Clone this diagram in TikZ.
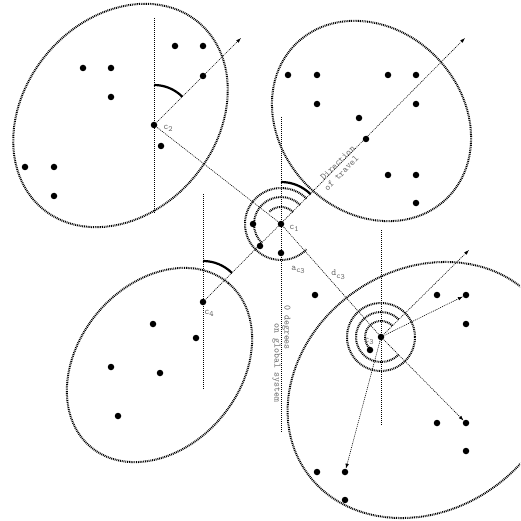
\documentclass[tikz,border=0pt]{standalone}
\usetikzlibrary{arrows.meta}
\newcommand\lsub[1]{\raisebox{-0.5ex}{\fontsize{8}{8}\selectfont #1}}
\begin{document}
\begin{tikzpicture}[x=1pt,y=-1pt,
  ell/.style={line width=2pt, dash pattern=on 0.9pt off 0.9pt},
  thindot/.style={line width=0.6pt, dash pattern=on 1pt off 1pt},
  dotpt/.style={circle, fill=black, inner sep=0pt, minimum size=6.5pt},
  lab/.style={text=black!60, font=\fontsize{9.5}{10}\selectfont\ttfamily, inner sep=0pt},
  angarc/.style={line width=2.2pt},
  tip/.style={-{Latex[length=5pt,width=3.5pt]}}]
\path[use as bounding box] (0,0) rectangle (520,521);
\clip (0,0) rectangle (520,521);

% ellipses (clusters)
\draw[ell, rotate around={50:(120.5,115.5)}] (120.5,115.5) ellipse [x radius=121.5pt, y radius=96pt];
\draw[ell, rotate around={-46:(371.5,121)}] (371.5,121) ellipse [x radius=108pt, y radius=91pt];
\draw[ell, rotate around={50:(159.5,365)}] (159.5,365) ellipse [x radius=107pt, y radius=81pt];
\draw[ell, rotate around={35:(423.5,390)}] (423.5,390) ellipse [x radius=143pt, y radius=120pt];

% points
\node[dotpt] (c1) at (281,224) {};
\node[dotpt] (c2) at (154,125) {};
\node[dotpt] (c3) at (381,337) {};
\node[dotpt] (c4) at (203,302) {};
\foreach \x/\y [count=\i] in {175/46,203/46,203/76,83/68,111/68,111/97,161/146,25/167,54/167,54/196,
  288/75,317/75,388/75,416/75,317/104,416/104,359/118,366/139,388/175,416/175,416/203,
  253/224,260/246,281/253,315/295,
  153/324,196/338,111/367,160/373,118/416,
  437/295,466/295,466/324,370/350,437/423,466/423,466/451,317/472,345/472,345/500}
  \node[dotpt] (p\i) at (\x,\y) {};

% vertical reference lines
\coordinate (v1a) at (154,18);  \coordinate (v1b) at (154,214);
\coordinate (v2a) at (281,117); \coordinate (v2b) at (281,432);
\coordinate (v3a) at (381,230); \coordinate (v3b) at (381,425);
\coordinate (v4a) at (203,194); \coordinate (v4b) at (203,390);
\draw[thindot] (v1a) -- (v1b);
\draw[thindot] (v2a) -- (v2b);
\draw[thindot] (v3a) -- (v3b);
\draw[thindot] (v4a) -- (v4b);

% direction arrows
\coordinate (t2) at (241,38);
\coordinate (t1) at (465,38);
\coordinate (t3) at (469,250);
\draw[thindot, tip] (c2.center) -- (t2);
\draw[thindot, tip] (c4.center) -- (t1);
\draw[thindot, tip] (c3.center) -- (t3);

% connectors
\draw[thindot] (c2.center) -- (c1.center);
\draw[thindot] (c1.center) -- (c3.center);
\draw[thindot, tip] (c3.center) -- (p36);
\draw[thindot, tip] (c3.center) -- (p32);
\draw[thindot, tip] (c3.center) -- (p39);

% angle arcs
\draw[angarc] ([shift={(90:40pt)}]c2.center) arc[start angle=90, end angle=45, radius=40pt];
\draw[angarc] ([shift={(90:42pt)}]c1.center) arc[start angle=90, end angle=45, radius=42pt];
\draw[angarc] ([shift={(90:41pt)}]c4.center) arc[start angle=90, end angle=45, radius=41pt];

% rings at c1
\draw[ell] ([shift={(45:17pt)}]c1.center) arc[start angle=45, delta angle=90, radius=17pt];
\draw[ell] ([shift={(45:27pt)}]c1.center) arc[start angle=45, delta angle=180, radius=27pt];
\draw[ell] ([shift={(45:36pt)}]c1.center) arc[start angle=45, delta angle=270, radius=36pt];
% rings at c3
\draw[ell] ([shift={(45:16pt)}]c3.center) arc[start angle=45, delta angle=180, radius=16pt];
\draw[ell] ([shift={(45:25pt)}]c3.center) arc[start angle=45, delta angle=270, radius=25pt];
\draw[ell] (c3.center) circle[radius=34pt];

% labels
\node[lab] (lc1) at (294,228) {c\lsub{1}};
\node[lab] (lc2) at (168,128) {c\lsub{2}};
\node[lab] (lc3) at (369,341) {c\lsub{3}};
\node[lab] (lc4) at (209,313) {c\lsub{4}};
\node[lab] (lac) at (298,270) {a\lsub{c\lsub{3}}};
\node[lab] (ldc) at (338,275) {d\lsub{c\lsub{3}}};
\node[lab, rotate=45, align=left] (ldir) at (339.5,168) {\hspace*{0.5em}Direction\\of travel};
\node[lab, rotate=-90, align=left] (lzero) at (281.5,354) {0 degrees\\\hspace*{1.9em}on global system};
\end{tikzpicture}
\end{document}
